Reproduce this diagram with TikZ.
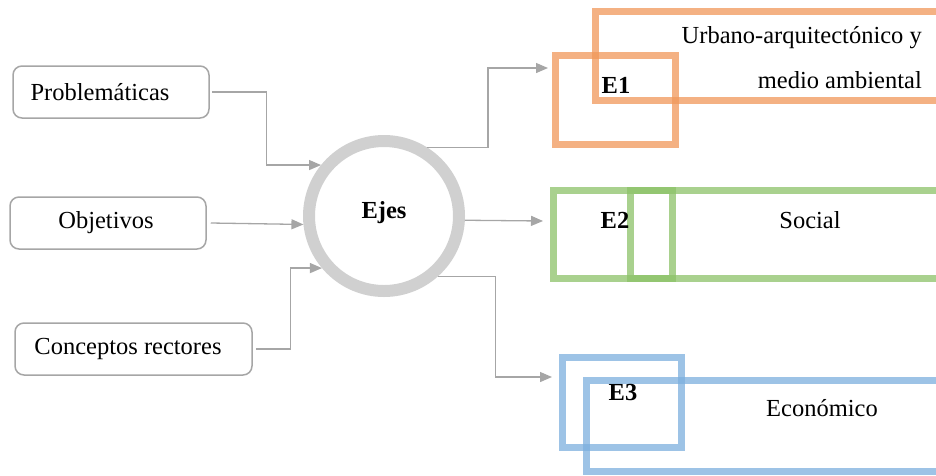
\documentclass[tikz,border=0pt]{standalone}
\usepackage{fontspec}
\setmainfont{Liberation Serif}
\usetikzlibrary{arrows.meta}
\definecolor{gris}{HTML}{A6A6A6}
\definecolor{anillo}{HTML}{D0D0D0}
\definecolor{naranja}{RGB}{240,151,90}
\definecolor{verde}{RGB}{140,194,104}
\definecolor{azul}{RGB}{124,175,222}

\begin{document}
\begin{tikzpicture}[x=1pt,y=-1pt,
 caja/.style={draw=gris,line width=1.5pt,rounded corners=9pt,align=center,
 minimum height=52pt,inner sep=0pt,font=\fontsize{24.5}{30}\selectfont},
 flecha/.style={draw=gris,line width=1.3pt,-{Triangle[length=12pt,width=10pt]}},
 eje/.style={draw=#1,draw opacity=0.75,line width=7pt,inner sep=0pt,outer sep=0pt},
 texto/.style={font=\fontsize{24.5}{45}\selectfont,inner sep=0pt},
 clave/.style={font=\fontsize{24.5}{30}\selectfont\bfseries,inner sep=0pt}]
\useasboundingbox (0,0) rectangle (936,475);
\clip (0,0) rectangle (936,475);
\node[caja,minimum width=196pt] (prob) at (111,92) {\hspace{-22pt}Problemáticas};
\node[caja,minimum width=196pt] (obj) at (108,223) {\hspace{-4pt}Objetivos};
\node[caja,minimum width=237pt] (conc) at (133.5,349) {\hspace{-11pt}Conceptos rectores};
\node[circle,draw=anillo,line width=12pt,minimum size=150pt,inner sep=0pt,
 font=\fontsize{24.5}{30}\selectfont\bfseries] (ejes) at (384,216) {\raisebox{13pt}{Ejes}};
\node[eje=naranja,minimum width=120pt,minimum height=89pt] (e1) at (615,99.5) {};
\node[eje=naranja,minimum width=350pt,minimum height=89pt] (u1) at (770,55.5) {};
\node[eje=verde,minimum width=119pt,minimum height=88pt] (e2) at (612.5,234) {};
\node[eje=verde,minimum width=315pt,minimum height=88pt] (s2) at (787.5,234) {};
\node[eje=azul,minimum width=119pt,minimum height=90pt] (e3) at (621.5,402) {};
\node[eje=azul,minimum width=359pt,minimum height=91pt] (c3) at (765.5,425.5) {};
\node[clave] (t1) at (616,85) {E1};
\node[texto,align=right,anchor=east] (urb) at (922,57.5) {Urbano-arquitectónico y\\medio ambiental};
\node[clave] (t2) at (615,220) {E2};
\node[texto] (soc) at (810,220) {Social};
\node[clave] (t3) at (623,392) {E3};
\node[texto] (eco) at (822,408) {Económico};
\coordinate (a1) at (548,68);
\coordinate (a2) at (543,221);
\coordinate (a3) at (552,377);
\draw[flecha] ([xshift=2pt]prob.east) -- ++(55,0) |- (ejes.141);
\draw[flecha] ([xshift=4pt]obj.east) -- (ejes.186);
\draw[flecha] ([xshift=3pt]conc.east) -- ++(35,0) |- (ejes.220);
\draw[flecha] (ejes.58) -- ++(61,0) |- (a1);
\draw[flecha] (ejes.357) -- (a2);
\draw[flecha] (ejes.312) -- ++(57,0) |- (a3);
\end{tikzpicture}
\end{document}
